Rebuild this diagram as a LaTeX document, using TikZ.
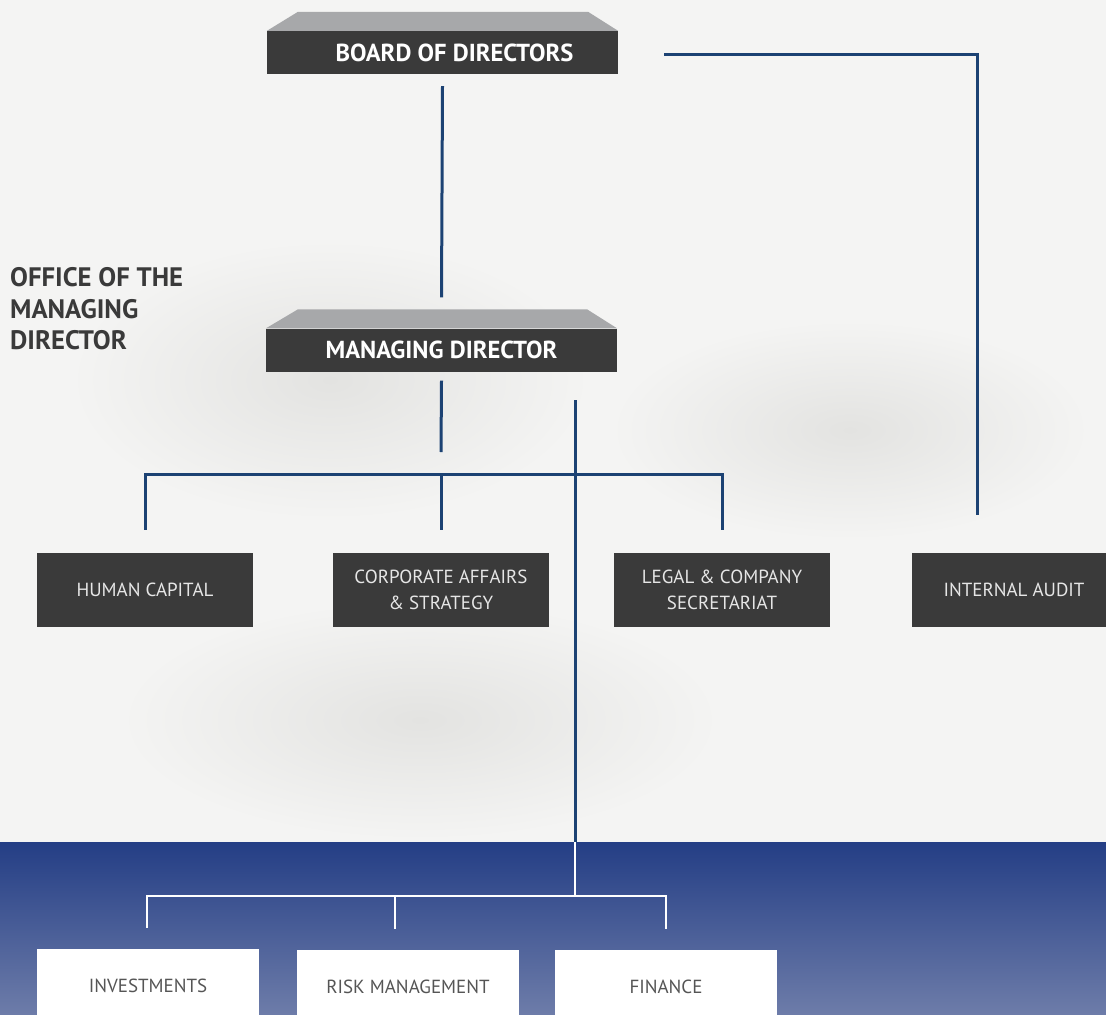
\documentclass[tikz,border=0pt]{standalone}
\usepackage{fontspec}
\setmainfont{PT Sans}
\usetikzlibrary{calc}
\definecolor{boxgray}{HTML}{3A3A3A}
\definecolor{roofgray}{HTML}{A7A8AA}
\definecolor{navy}{HTML}{1C4273}
\definecolor{bandtop}{HTML}{243E85}
\definecolor{bandbot}{HTML}{6D7CA9}
\definecolor{paper}{HTML}{F4F4F3}
\definecolor{smudge}{HTML}{E3E3E1}
\definecolor{lighttext}{HTML}{E6E6E6}
\definecolor{greytext}{HTML}{555555}
\tikzset{
  darkbox/.style={fill=boxgray,text=lighttext,align=center,minimum width=108mm,minimum height=37mm,inner sep=0pt,font=\fontsize{27}{37}\selectfont},
  whitebox/.style={darkbox,fill=white,text=greytext},
  topbox/.style={darkbox,minimum width=175.5mm,minimum height=21.5mm,text=white,font=\fontsize{35}{44.8}\selectfont\bfseries},
  headtext/.style={align=left,inner sep=0pt,text=boxgray,font=\fontsize{38}{44.8}\selectfont\bfseries},
  roof/.style={fill=roofgray},
  link/.style={draw=navy,line width=1.5mm},
  wlink/.style={draw=white,line width=1.2mm}
}

\begin{document}
\begin{tikzpicture}[x=0.5mm,y=-0.5mm]
\useasboundingbox (0,0) rectangle (1106,1014);
\clip (0,0) rectangle (1106,1014);
% background
\fill[paper] (0,0) rectangle (1106,842);
\shade[inner color=smudge,outer color=paper] (330,380) ellipse (260 and 140);
\shade[inner color=smudge,outer color=paper] (850,430) ellipse (240 and 110);
\shade[inner color=smudge,outer color=paper] (420,720) ellipse (300 and 120);
\shade[top color=bandtop,bottom color=bandbot] (0,842) rectangle (1106,1014);

% boxes
\node[topbox] (board) at (442.5,52.5) {\hspace*{12mm}BOARD OF DIRECTORS};
\node[topbox] (md) at (441.5,350) {MANAGING DIRECTOR};
\fill[roof] (board.north west) -- ($(board.north west)+(31,-19)$) -- ($(board.north east)+(-30,-19)$) -- (board.north east) -- cycle;
\fill[roof] (md.north west) -- ($(md.north west)+(32,-19)$) -- ($(md.north east)+(-30,-19)$) -- (md.north east) -- cycle;
\node[headtext,anchor=west] (office) at (10,309) {OFFICE OF THE\\MANAGING\\DIRECTOR};

\node[darkbox] (hc) at (145,590) {HUMAN CAPITAL};
\node[darkbox] (corp) at (441,590) {CORPORATE AFFAIRS\\\& STRATEGY};
\node[darkbox] (legal) at (722,590) {LEGAL \& COMPANY\\SECRETARIAT};
\node[darkbox] (audit) at (1020,590) {\hspace*{-6mm}INTERNAL AUDIT};

\node[whitebox,minimum width=111mm] (inv) at (148,986) {INVESTMENTS};
\node[whitebox,minimum width=111mm] (risk) at (408,987) {RISK MANAGEMENT};
\node[whitebox,minimum width=111mm] (fin) at (666,987) {FINANCE};

% connectors
\coordinate (auditdrop) at (977,515);
\coordinate (bar) at (441,475);
\coordinate (fork) at (575,400); \coordinate (band) at (575,842); \coordinate (lowbar) at (575,896);
\draw[link] ($(board.south)+(0,12)$) -- ($(md.north)+(0,-31)$);
\draw[link] ($(board.east)+(46,1.5)$) -| (auditdrop);
\draw[link] ($(md.south)+(0,9)$) -- ($(bar)+(0,-23)$);
\draw[link] ($(hc.north)+(0,-23)$) |- ($(legal.north)+(0,-78)$) -- ($(legal.north)+(0,-23)$);
\draw[link] (bar) -- ($(corp.north)+(0,-23)$);
\draw[link] (fork) -- (band);
\draw[wlink] (band) -- (lowbar);
\draw[wlink] ($(inv.north)+(-1,-21)$) |- ($(fin.north)+(0,-54)$) -- ($(fin.north)+(0,-21)$);
\draw[wlink] ($(risk.north)+(-13,-54)$) -- ($(risk.north)+(-13,-21)$);
\end{tikzpicture}
\end{document}
